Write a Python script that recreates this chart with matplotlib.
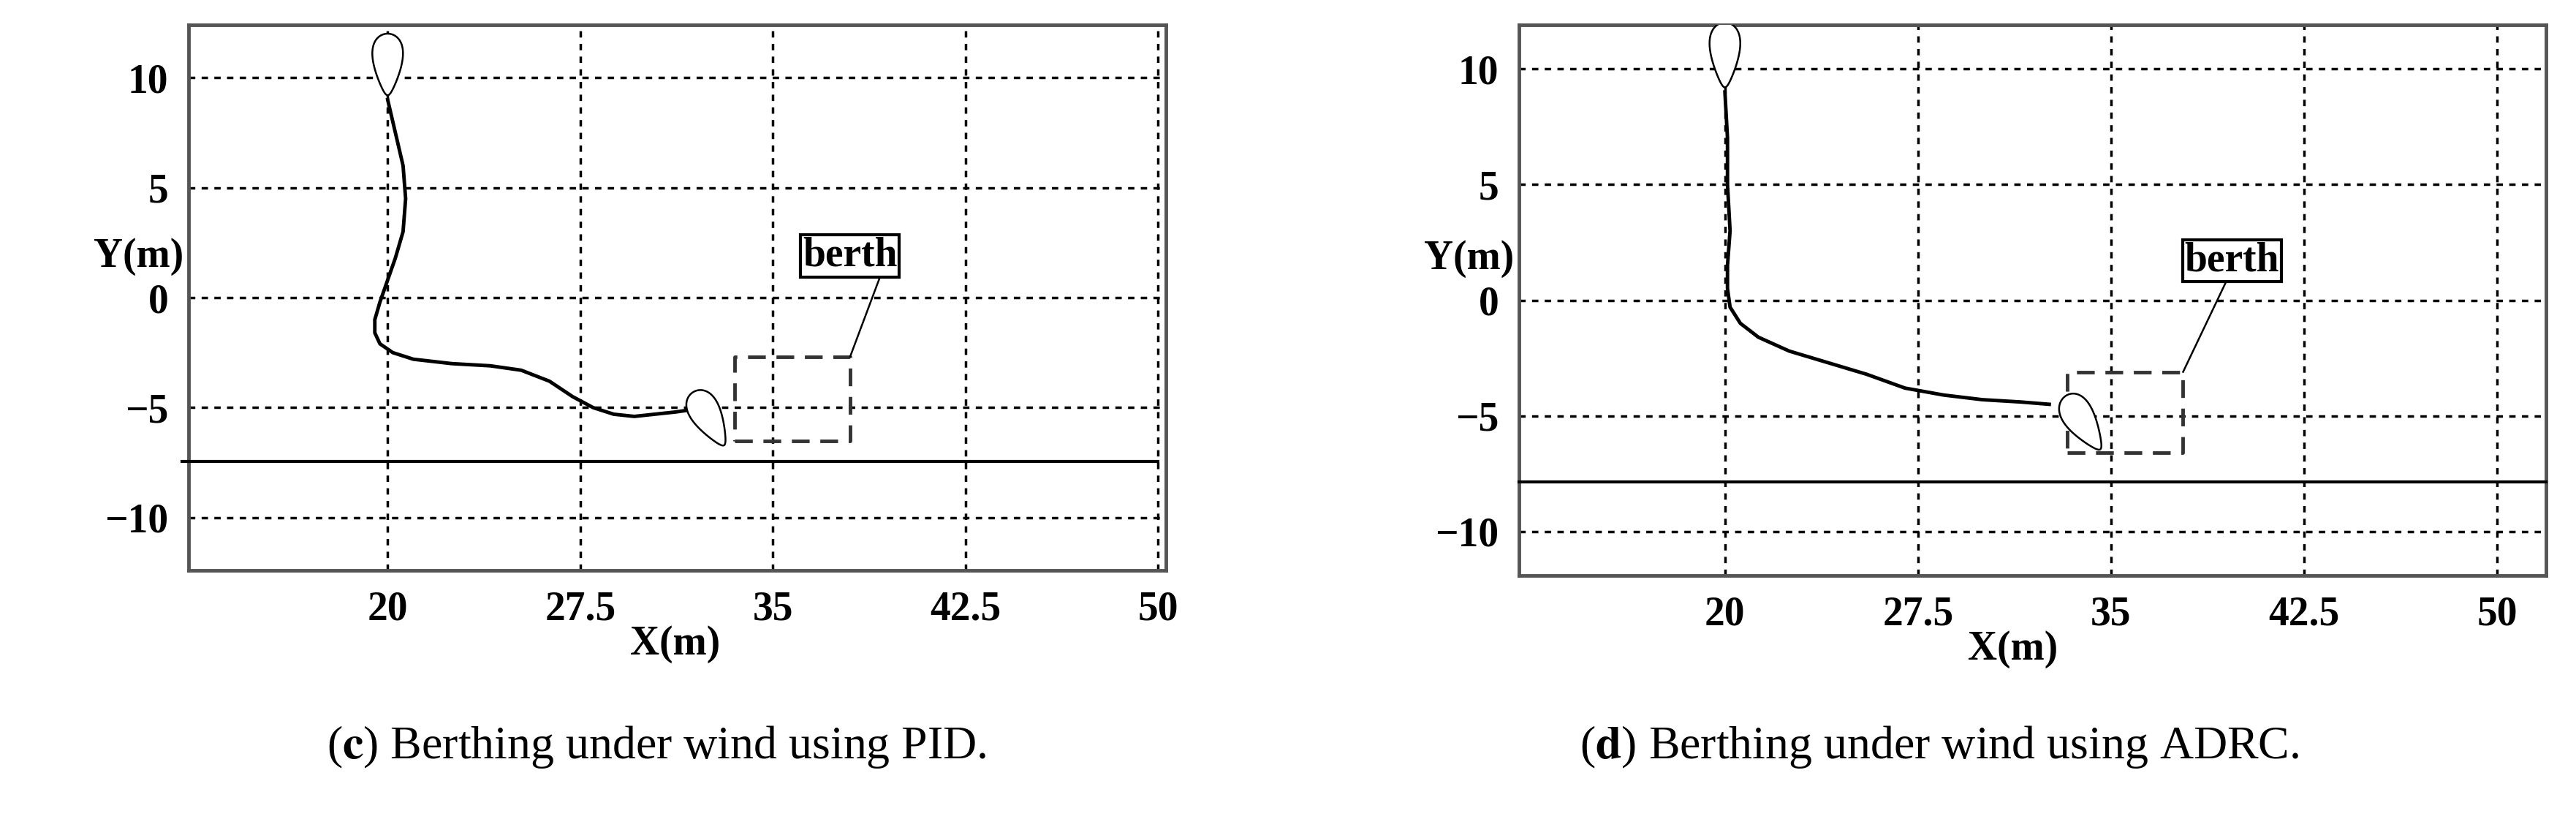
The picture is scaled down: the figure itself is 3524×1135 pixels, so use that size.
import numpy as np
import matplotlib
matplotlib.use("Agg")
import matplotlib.pyplot as plt

plt.rcParams['font.family'] = ['Liberation Serif', 'DejaVu Serif']
plt.rcParams['mathtext.fontset'] = 'stix'

xticks = [20, 27.5, 35, 42.5, 50]
yticks = [-10, -5, 0, 5, 10]

# PID trajectory (c)
pid_x = [20.0, 20.3, 20.6, 20.7, 20.6, 20.3, 20.0, 19.7, 19.5, 19.5, 19.7, 20.2, 21.0, 22.5, 24.0, 25.2, 26.3, 27.2, 28.0, 28.8, 29.6, 30.4, 31.2, 31.8]
pid_y = [9.0, 7.5, 6.0, 4.5, 3.0, 1.8, 0.8, -0.2, -1.0, -1.6, -2.1, -2.5, -2.8, -3.0, -3.1, -3.3, -3.8, -4.5, -5.0, -5.3, -5.4, -5.3, -5.2, -5.1]
# ADRC trajectory (d)
adrc_x = [20.0, 20.1, 20.1, 20.2, 20.1, 20.1, 20.2, 20.6, 21.3, 22.5, 24.0, 25.5, 27.0, 28.5, 30.0, 31.5, 32.6]
adrc_y = [9.0, 7.0, 5.0, 3.0, 1.5, 0.5, -0.3, -1.0, -1.6, -2.2, -2.7, -3.2, -3.8, -4.1, -4.3, -4.4, -4.5]

panels = [
    dict(ax=[258/3524, 1-780/1135, (1595-258)/3524, (780-34)/1135], xlim=(12.25, 50.3), ylim=(-12.4, 12.4),
         tx=pid_x, ty=pid_y, start=(20, 10.6, 0), end=(32.5, -5.5, 30), berth=(33.5, 38.0, -6.5, -2.7),
         label=(38.0, 1.9), leader=((38.0, -2.7), (39.3, 1.35)), shore=-7.45, shore_x=(12.0, 50.0),
         cap="c", captxt=" Berthing under wind using PID.", capx=0.255),
    dict(ax=[2078/3524, 1-787/1135, (3483-2078)/3524, (787-34)/1135], xlim=(12.0, 51.9), ylim=(-11.9, 11.9),
         tx=adrc_x, ty=adrc_y, start=(20, 10.6, 0), end=(33.9, -5.3, 35), berth=(33.3, 37.8, -6.6, -3.1),
         label=(39.7, 1.7), leader=((37.8, -3.1), (39.6, 1.1)), shore=-7.85, shore_x=(12.0, 51.9),
         cap="d", captxt=" Berthing under wind using ADRC.", capx=0.753),
]

def ship(ax, cx, cy, ang):
    t = np.linspace(0, 2*np.pi, 200)
    ly = 1.4*np.cos(t)
    lx = 0.95*np.sin(t)*(0.35+0.65*(1+np.cos(t))/2)
    a = np.deg2rad(ang)
    sx = 0.85
    X = lx*np.cos(a) - ly*np.sin(a)
    Y = lx*np.sin(a) + ly*np.cos(a)
    ax.fill(cx + X*sx, cy + Y, facecolor='white', edgecolor='black', lw=1.8, zorder=5)

fig = plt.figure(figsize=(35.24, 11.35), dpi=100)
for p in panels:
    ax = fig.add_axes(p['ax'])
    ax.set_xlim(*p['xlim']); ax.set_ylim(*p['ylim'])
    ax.set_xticks(xticks); ax.set_yticks(yticks)
    ax.set_xticklabels(['20', '27.5', '35', '42.5', '50'])
    ax.set_yticklabels(['\u221210', '\u22125', '0', '5', '10'])
    ax.tick_params(length=0, labelsize=40, pad=20)
    ax.grid(True, color='black', ls=(0, (2.5, 2.5)), lw=2.5)
    for s in ax.spines.values():
        s.set_color('#555555'); s.set_linewidth(3.5)
    ax.plot(p['tx'], p['ty'], color='black', lw=3.5, zorder=4)
    ship(ax, *p['start']); ship(ax, *p['end'])
    x0, x1, y0, y1 = p['berth']
    ax.plot([x0, x1, x1, x0, x0], [y0, y0, y1, y1, y0], color='#333333', lw=3.5, ls=(0, (5, 3)), zorder=4)
    ax.text(*p['label'], 'berth', fontsize=40, ha='center', va='center', zorder=6, fontweight='bold',
            bbox=dict(boxstyle='square,pad=0.05', fc='white', ec='black', lw=3))
    (a0, b0), (a1, b1) = p['leader']
    ax.plot([a0, a1], [b0, b1], color='black', lw=1.8, zorder=4)
    ax.plot(p['shore_x'], [p['shore'], p['shore']], color='black', lw=3, clip_on=False, zorder=4)
    ax.text(-0.005, (0 - p['ylim'][0]) / (p['ylim'][1] - p['ylim'][0]) + 0.04, 'Y(m)', transform=ax.transAxes,
            fontsize=40, ha='right', va='bottom', fontweight='bold')
    ax.text((31.2 - p['xlim'][0]) / (p['xlim'][1] - p['xlim'][0]), -0.1, 'X(m)', transform=ax.transAxes,
            fontsize=40, ha='center', va='top', fontweight='bold')
    for lbl in ax.get_xticklabels() + ax.get_yticklabels():
        lbl.set_fontweight('bold')
    fig.text(p['capx'], 0.1, r'($\mathbf{' + p['cap'] + r'}$)' + p['captxt'], fontsize=46, va='center', ha='center')

fig.savefig('out.png', dpi=100, facecolor='white')
